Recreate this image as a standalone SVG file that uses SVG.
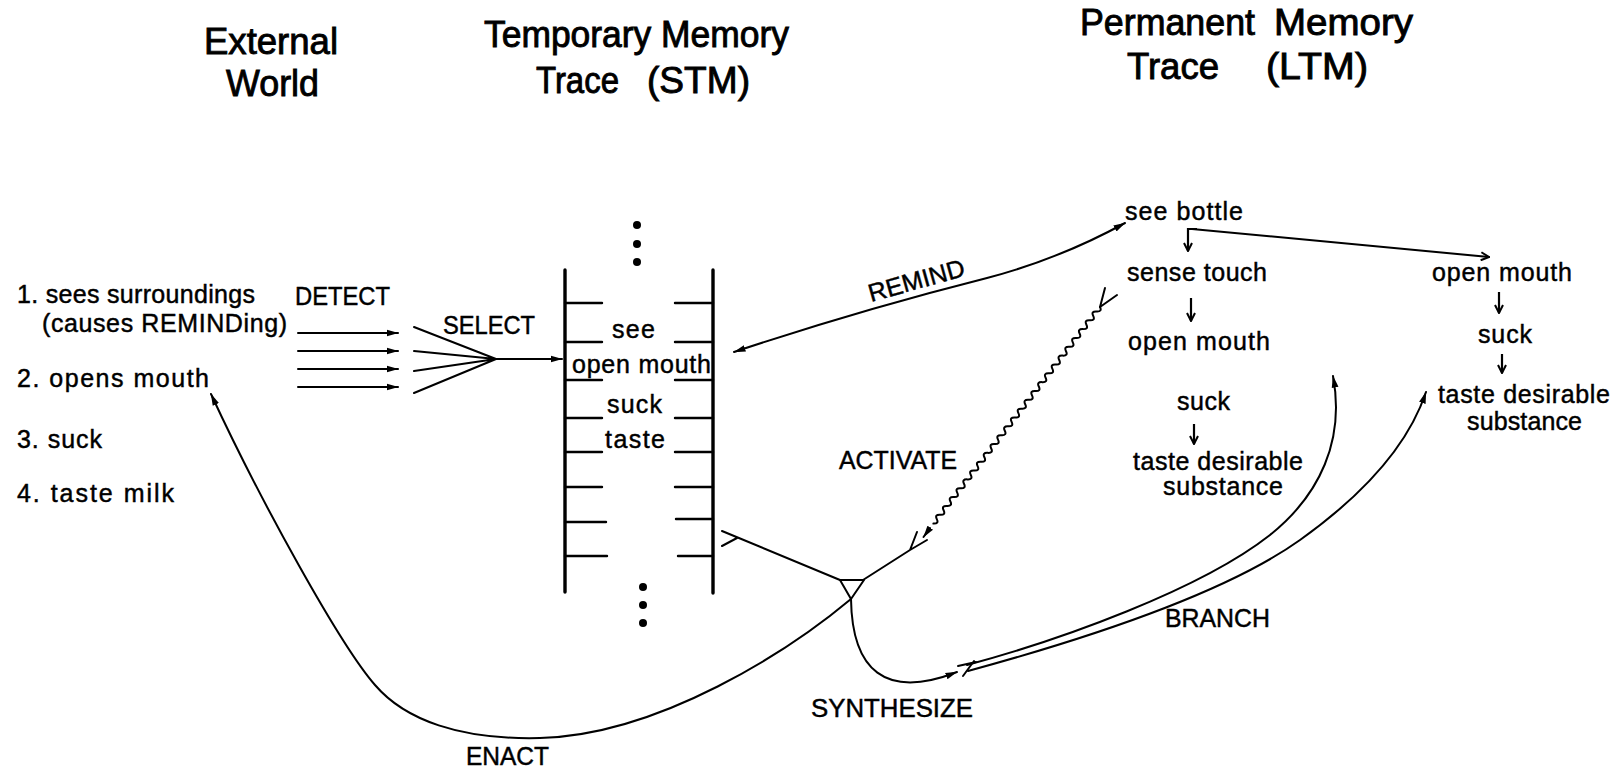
<svg xmlns="http://www.w3.org/2000/svg" width="1621" height="771" viewBox="0 0 1621 771">
  <defs>
    <!-- filled arrowhead for flow connectors -->
    <marker id="ah" viewBox="0 0 12 8" refX="11.5" refY="4" markerWidth="12" markerHeight="8" orient="auto-start-reverse" markerUnits="userSpaceOnUse">
      <path d="M0,0.6 L12,4 L0,7.4 Z" fill="#000"/>
    </marker>
    <!-- open V arrowhead for sequence steps -->
    <marker id="av" viewBox="0 0 10 10" refX="9" refY="5" markerWidth="10" markerHeight="10" orient="auto" markerUnits="userSpaceOnUse">
      <path d="M1,1 L9,5 L1,9" fill="none" stroke="#000" stroke-width="2"/>
    </marker>
  </defs>
  <style>
    text{font-family:"Liberation Sans",Arial,Helvetica,sans-serif;fill:#000;stroke:#000}
    .title{font-size:37px;stroke-width:0.9}
    .body{font-size:25px;stroke-width:0.45}
    .lbl{font-size:25px;stroke-width:0.45}
    .ln{fill:none;stroke:#000;stroke-width:2;stroke-linecap:round;stroke-linejoin:round}
    .arr{marker-end:url(#ah)}
    .step{fill:none;stroke:#000;stroke-width:2.2;marker-end:url(#av)}
    .rail{fill:none;stroke:#000;stroke-width:3.4;stroke-linecap:round}
    .rung{fill:none;stroke:#000;stroke-width:2.4;stroke-linecap:round}
    .dot{fill:#000}
  </style>
  <rect width="1621" height="771" fill="#fff"/>

  <!-- column headings -->
  <g id="head-external">
    <text class="title" x="204" y="54" textLength="134" lengthAdjust="spacingAndGlyphs">External</text>
    <text class="title" x="226" y="96" textLength="93" lengthAdjust="spacingAndGlyphs">World</text>
  </g>
  <g id="head-stm">
    <text class="title" x="484" y="47" textLength="305" lengthAdjust="spacingAndGlyphs">Temporary Memory</text>
    <text class="title" x="536" y="93" textLength="83" lengthAdjust="spacingAndGlyphs">Trace</text>
    <text class="title" x="647" y="93" textLength="103" lengthAdjust="spacingAndGlyphs">(STM)</text>
  </g>
  <g id="head-ltm">
    <text class="title" x="1080" y="35" textLength="175" lengthAdjust="spacingAndGlyphs">Permanent</text>
    <text class="title" x="1274" y="35" textLength="139" lengthAdjust="spacingAndGlyphs">Memory</text>
    <text class="title" x="1127" y="79" textLength="92" lengthAdjust="spacingAndGlyphs">Trace</text>
    <text class="title" x="1266" y="79" textLength="102" lengthAdjust="spacingAndGlyphs">(LTM)</text>
  </g>

  <!-- events in the external world -->
  <g id="world-events">
    <text class="body" x="17" y="303" textLength="238" lengthAdjust="spacing">1. sees surroundings</text>
    <text class="body" x="42" y="332" textLength="245" lengthAdjust="spacing">(causes REMINDing)</text>
    <text class="body" x="17" y="387" textLength="192" lengthAdjust="spacing">2. opens mouth</text>
    <text class="body" x="17" y="448" textLength="85" lengthAdjust="spacing">3. suck</text>
    <text class="body" x="17" y="502" textLength="157" lengthAdjust="spacing">4. taste milk</text>
  </g>

  <!-- short-term memory trace: a ladder of slots -->
  <g id="stm-trace">
    <circle class="dot" cx="637" cy="225" r="4"/>
    <circle class="dot" cx="637" cy="244" r="4"/>
    <circle class="dot" cx="637" cy="262" r="4"/>
    <path class="rail" d="M565,270 V592 M713,270 V593"/>
    <path class="rung" d="M565,303 H602 M675,303 H713
                          M565,342 H602 M675,342 H713
                          M565,380 H602 M675,380 H713
                          M565,418 H602 M675,418 H713
                          M565,452 H602 M675,452 H713
                          M565,487 H602 M675,487 H713
                          M565,522 H606 M676,519 H713
                          M565,556 H607 M678,556 H713"/>
    <text class="body" x="612" y="338" textLength="43" lengthAdjust="spacing">see</text>
    <text class="body" x="572" y="373" textLength="139" lengthAdjust="spacing">open mouth</text>
    <text class="body" x="607" y="413" textLength="55" lengthAdjust="spacing">suck</text>
    <text class="body" x="605" y="448" textLength="60" lengthAdjust="spacing">taste</text>
    <circle class="dot" cx="643" cy="587" r="4"/>
    <circle class="dot" cx="643" cy="605" r="4"/>
    <circle class="dot" cx="643" cy="623" r="4"/>
  </g>

  <!-- long-term memory: main script -->
  <g id="ltm-script">
    <text class="body" x="1125" y="220" textLength="118" lengthAdjust="spacing">see bottle</text>
    <text class="body" x="1127" y="281" textLength="140" lengthAdjust="spacing">sense touch</text>
    <text class="body" x="1128" y="350" textLength="142" lengthAdjust="spacing">open mouth</text>
    <text class="body" x="1177" y="410" textLength="53" lengthAdjust="spacing">suck</text>
    <text class="body" x="1133" y="470" textLength="170" lengthAdjust="spacing">taste desirable</text>
    <text class="body" x="1163" y="495" textLength="120" lengthAdjust="spacing">substance</text>
  </g>

  <!-- long-term memory: alternative branch -->
  <g id="ltm-branch">
    <text class="body" x="1432" y="281" textLength="140" lengthAdjust="spacing">open mouth</text>
    <text class="body" x="1478" y="343" textLength="54" lengthAdjust="spacing">suck</text>
    <text class="body" x="1438" y="403" textLength="172" lengthAdjust="spacing">taste desirable</text>
    <text class="body" x="1467" y="430" textLength="115" lengthAdjust="spacing">substance</text>
  </g>

  <!-- process labels -->
  <g id="labels">
    <text class="lbl" x="295" y="305" textLength="95" lengthAdjust="spacingAndGlyphs">DETECT</text>
    <text class="lbl" x="443" y="334" textLength="92" lengthAdjust="spacingAndGlyphs">SELECT</text>
    <text class="lbl" x="0" y="0" textLength="99" lengthAdjust="spacingAndGlyphs" transform="translate(871,302) rotate(-15.6)">REMIND</text>
    <text class="lbl" x="839" y="469" textLength="118" lengthAdjust="spacingAndGlyphs">ACTIVATE</text>
    <text class="lbl" x="811" y="717" textLength="162" lengthAdjust="spacingAndGlyphs">SYNTHESIZE</text>
    <text class="lbl" x="1165" y="627" textLength="105" lengthAdjust="spacingAndGlyphs">BRANCH</text>
    <text class="lbl" x="466" y="765" textLength="83" lengthAdjust="spacingAndGlyphs">ENACT</text>
  </g>

  <!-- connectors -->
  <g id="connectors">
    <!-- detect -->
    <path class="ln arr" d="M298,333 H398"/>
    <path class="ln arr" d="M298,351 H398"/>
    <path class="ln arr" d="M298,369 H398"/>
    <path class="ln arr" d="M298,387 H398"/>
    <!-- select: four inputs merge into one -->
    <path class="ln" d="M414,327 L496,359 M414,351 L496,359 M414,371 L496,359 M414,393 L496,359"/>
    <path class="ln arr" d="M496,359 H562"/>
    <!-- remind: two-way link between STM slot and LTM -->
    <path class="ln" style="marker-start:url(#ah);marker-end:url(#ah)" d="M734,352 C800,330 900,300 987,278 C1040,264 1085,245 1125,223"/>
    <!-- LTM sequence steps -->
    <path class="step" d="M1197,229 H1188 V251"/>
    <path class="ln" style="marker-end:url(#av)" d="M1192,229 L1489,257"/>
    <path class="step" d="M1191,298 V321"/>
    <path class="step" d="M1194,424 V444"/>
    <path class="step" d="M1499,292 V313"/>
    <path class="step" d="M1502,354 V373"/>
    <!-- activate: wavy link from LTM down to the synthesis point -->
    <path class="ln" d="M1100,307 L1105,288 M1100,307 L1117,295"/>
    <path class="ln" stroke-width="2.4" d="M1100,307 q2.37,4.76 -3.4,4.42 t-3.4,4.42 t-3.4,4.42 t-3.4,4.42 t-3.4,4.42 t-3.4,4.42 t-3.4,4.42 t-3.4,4.42 t-3.4,4.42 t-3.4,4.42 t-3.4,4.42 t-3.4,4.42 t-3.4,4.42 t-3.4,4.42 t-3.4,4.42 t-3.4,4.42 t-3.4,4.42 t-3.4,4.42 t-3.4,4.42 t-3.4,4.42 t-3.4,4.42 t-3.4,4.42 t-3.4,4.42 t-3.4,4.42 t-3.4,4.42 t-3.4,4.42 t-3.4,4.42 t-3.4,4.42 t-3.4,4.42 t-3.4,4.42 t-3.4,4.42 t-3.4,4.42 t-3.4,4.42 t-3.4,4.42 t-3.4,4.42 t-3.4,4.42 t-3.4,4.42 t-3.4,4.42 t-3.4,4.42 t-3.4,4.42 t-3.4,4.42 t-3.4,4.42 t-3.4,4.42 t-3.4,4.42 t-3.4,4.42 t-3.4,4.42 t-3.4,4.42 t-3.4,4.42 t-3.4,4.42"/>
    <path class="ln arr" d="M930,528 L923.5,537"/>
    <!-- inputs to the synthesis node -->
    <path class="ln" d="M722,531 L840,580 M722,546 L737,538"/>
    <path class="ln" d="M910,550 L863,580 M910,550 L917,532 M910,550 L927,540"/>
    <path class="ln" d="M840,580 L864,580 L851,599 Z"/>
    <!-- synthesize -->
    <path class="ln arr" stroke-width="2.2" d="M851,599 C852,670 885,700 957,672"/>
    <!-- branch -->
    <path class="ln" d="M958,666 L976,662 M974,661 L963,676"/>
    <path class="ln arr" stroke-width="2.2" d="M967,665 C1060,640 1200,590 1270,535 C1320,495 1345,440 1333,376"/>
    <path class="ln arr" stroke-width="2.2" d="M968,671 C1100,635 1230,590 1300,540 C1370,490 1410,440 1426,392"/>
    <!-- enact -->
    <path class="ln arr" d="M851,599 C790,650 660,735 540,738 C460,740 405,720 375,685 C340,645 260,500 211,394"/>
  </g>
</svg>
